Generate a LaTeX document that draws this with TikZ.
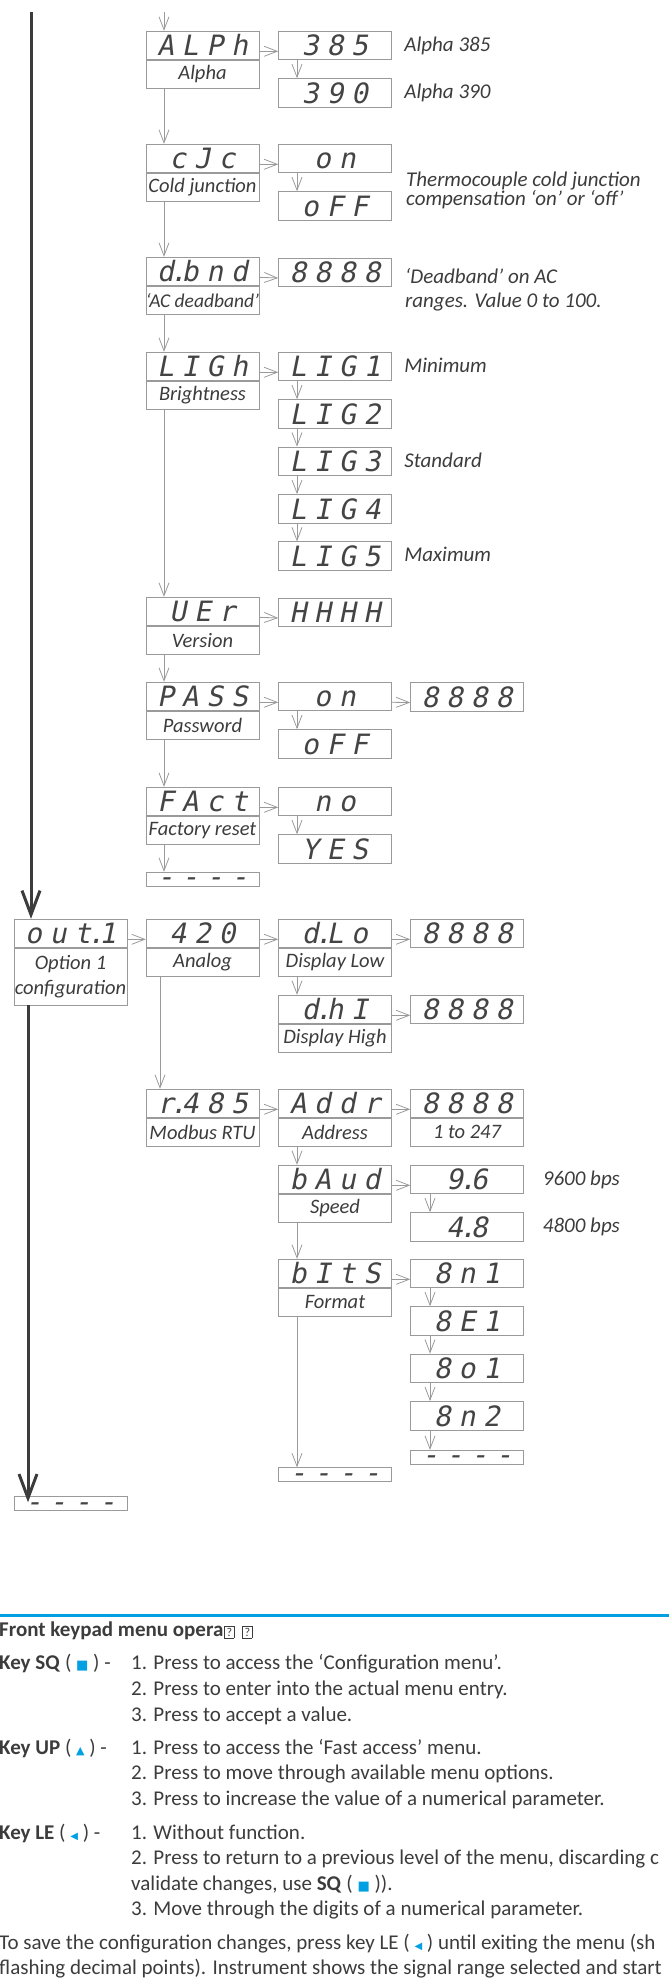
\documentclass[tikz,border=0pt]{standalone}
\usepackage{fontspec}
\setmainfont{Carlito}
\newfontfamily\segfont[FakeSlant=0.2,LetterSpace=28]{DejaVu Sans Mono}
\newfontfamily\symfont{DejaVu Sans}
\usetikzlibrary{positioning,arrows.meta}

\definecolor{boxgray}{HTML}{9A9A9A}
\definecolor{seggray}{HTML}{444444}
\definecolor{txtgray}{HTML}{3C3C3C}
\definecolor{keyblue}{HTML}{00A0E3}

\newcommand\segdot{\kern-4pt\rlap{.}\kern11.8pt}
\newcommand\segdash{\raisebox{-7.5pt}{----}}
\newcommand\nochar{{\fboxsep=1.5pt\fboxrule=0.7pt\fbox{\fontsize{12pt}{12pt}\selectfont\mdseries ?}}}
\newcommand\keysq{{\symfont\color{keyblue}\fontsize{13pt}{13pt}\selectfont ■}}
\newcommand\keyup{{\symfont\color{keyblue}\fontsize{11pt}{11pt}\selectfont ▲}}
\newcommand\keyle{{\symfont\color{keyblue}\fontsize{10pt}{10pt}\selectfont ◀}}

\begin{document}
\begin{tikzpicture}[x=1pt, y=-1pt, >={Straight Barb[length=13pt,width=10pt]},
        disp/.style={rectangle, draw=boxgray, minimum width=113pt, minimum height=28.5pt, inner sep=0pt,
            font=\segfont\fontsize{28pt}{28pt}\selectfont, text=seggray, text height=21pt, text depth=0pt},
        lbl/.style={rectangle, draw=boxgray, minimum width=113pt, minimum height=28.5pt, inner sep=0pt,
            font=\itshape\fontsize{20.5pt}{25pt}\selectfont, text=txtgray, align=center},
        endbox/.style={rectangle, draw=boxgray, minimum width=113pt, minimum height=14pt, inner sep=0pt,
            font=\segfont\fontsize{28pt}{28pt}\selectfont, text=seggray, text height=0pt, text depth=0pt},
        note/.style={anchor=base west, inner sep=0pt, font=\itshape\fontsize{21pt}{24pt}\selectfont, text=txtgray},
        arr/.style={->, draw=boxgray, line width=0.8pt},
        bigarr/.style={-{Straight Barb[length=24pt,width=18pt]}, draw=txtgray, line width=3pt},
        body/.style={anchor=base west, inner sep=0pt, font=\fontsize{21pt}{25.5pt}\selectfont, text=txtgray},
        headtxt/.style={anchor=base west, inner sep=0pt, font=\bfseries\fontsize{21pt}{25.5pt}\selectfont, text=txtgray}
    ]
    \useasboundingbox (0,0) rectangle (669,1986);
    \clip (0,0) rectangle (669,1986);

    % ALPh
    \coordinate (start) at (164,12);
    \node[disp] (alph) at (202.5,45.3) {ALPh};
    \node[lbl, below=0pt of alph] (alphL) {Alpha};
    \node[disp] (alph385) at (335,45.3) {385};
    \node[disp, below=18.5pt of alph385] (alph390) {390};
    \node[note] (alphN1) at ([xshift=12.5pt,yshift=-6pt]alph385.east) {Alpha 385};
    \node[note] (alphN2) at ([xshift=12.5pt,yshift=-6pt]alph390.east) {Alpha 390};
    \draw[arr] (start) -- (alph.north -| start);
    \draw[arr] ([yshift=-6pt]alph.east) -- ([yshift=-6pt]alph385.west);
    \draw[arr] ([xshift=-38pt]alph385.south) -- ([xshift=-38pt]alph390.north);

    % cJc
    \node[disp] (cjc) at (202.5,158.3) {cJc};
    \node[lbl, below=0pt of cjc] (cjcL) {Cold junction};
    \node[disp] (cjcOn) at (335,158.3) {on};
    \node[disp, below=18.5pt of cjcOn] (cjcOff) {oFF};
    \node[note] (cjcN1) at (406,186) {Thermocouple cold junction};
    \node[note] (cjcN2) at (406,205) {compensation ‘on’ or ‘off’};
    \draw[arr] (alphL.south -| start) -- (cjc.north -| start);
    \draw[arr] ([yshift=-6pt]cjc.east) -- ([yshift=-6pt]cjcOn.west);
    \draw[arr] ([xshift=-38pt]cjcOn.south) -- ([xshift=-38pt]cjcOff.north);

    % d.bnd
    \node[disp] (dbnd) at (202.5,271.3) {d\segdot bnd};
    \node[lbl, below=0pt of dbnd, font=\itshape\fontsize{19.5pt}{25pt}\selectfont] (dbndL) {‘AC deadband’};
    \node[disp] (dbndVal) at (335,272) {8888};
    \node[note] (dbndN1) at (405,283) {‘Deadband’ on AC};
    \node[note] (dbndN2) at (405,307.5) {ranges. Value 0 to 100.};
    \draw[arr] (cjcL.south -| start) -- (dbnd.north -| start);
    \draw[arr] ([yshift=-6pt]dbnd.east) -- ([yshift=-6pt]dbndVal.west);

    % LIGh
    \node[disp] (ligh) at (202.5,366.3) {LIGh};
    \node[lbl, below=0pt of ligh] (lighL) {Brightness};
    \node[disp] (lig1) at (335,366.3) {LIG1};
    \node[disp, below=18.5pt of lig1] (lig2) {LIG2};
    \node[disp, below=18.5pt of lig2] (lig3) {LIG3};
    \node[disp, below=18.5pt of lig3] (lig4) {LIG4};
    \node[disp, below=18.5pt of lig4] (lig5) {LIG5};
    \node[note] (lighN1) at ([xshift=12.5pt,yshift=-6pt]lig1.east) {Minimum};
    \node[note] (lighN3) at ([xshift=12.5pt,yshift=-6pt]lig3.east) {Standard};
    \node[note] (lighN5) at ([xshift=12.5pt,yshift=-6pt]lig5.east) {Maximum};
    \draw[arr] (dbndL.south -| start) -- (ligh.north -| start);
    \draw[arr] ([yshift=-6pt]ligh.east) -- ([yshift=-6pt]lig1.west);
    \foreach \a/\b in {lig1/lig2, lig2/lig3, lig3/lig4, lig4/lig5}
        \draw[arr] ([xshift=-38pt]\a.south) -- ([xshift=-38pt]\b.north);

    % UEr
    \node[disp] (ver) at (202.5,611.3) {UEr};
    \node[lbl, below=0pt of ver] (verL) {Version};
    \node[disp] (verVal) at (335,612) {HHHH};
    \draw[arr] (lighL.south -| start) -- (ver.north -| start);
    \draw[arr] ([yshift=-6pt]ver.east) -- ([yshift=-6pt]verVal.west);

    % PASS
    \node[disp] (pass) at (202.5,696.3) {PASS};
    \node[lbl, below=0pt of pass] (passL) {Password};
    \node[disp] (passOn) at (335,696.3) {on};
    \node[disp, below=18.5pt of passOn] (passOff) {oFF};
    \node[disp] (passVal) at (467,696.5) {8888};
    \draw[arr] (verL.south -| start) -- (pass.north -| start);
    \draw[arr] ([yshift=-6pt]pass.east) -- ([yshift=-6pt]passOn.west);
    \draw[arr] ([yshift=-6pt]passOn.east) -- ([yshift=-6pt]passVal.west);
    \draw[arr] ([xshift=-38pt]passOn.south) -- ([xshift=-38pt]passOff.north);

    % FAct
    \node[disp] (fact) at (202.5,801.3) {FAct};
    \node[lbl, below=0pt of fact] (factL) {Factory reset};
    \node[disp] (factNo) at (335,801.3) {no};
    \node[disp, below=18.5pt of factNo] (factYes) {YES};
    \node[endbox] (endA) at (202.5,879) {\segdash};
    \draw[arr] (passL.south -| start) -- (fact.north -| start);
    \draw[arr] ([yshift=-6pt]fact.east) -- ([yshift=-6pt]factNo.west);
    \draw[arr] ([xshift=-38pt]factNo.south) -- ([xshift=-38pt]factYes.north);
    \draw[arr] (factL.south -| start) -- (endA.north -| start);

    % out.1
    \node[disp] (out1) at (70.5,933.3) {out\segdot 1};
    \node[lbl, below=0pt of out1, minimum height=57pt] (out1L) {Option 1\\configuration};
    \node[endbox] (endB) at (70.5,1503.5) {\segdash};
    \coordinate (spine) at (31,12);
    \draw[bigarr] (spine) -- (spine |- out1.north);
    \draw[bigarr, shorten >=-6pt] ([xshift=-42.5pt]out1L.south) -- ([xshift=-42.5pt]endB.north);

    % 420
    \node[disp] (ana) at (202.5,933.3) {420};
    \node[lbl, below=0pt of ana] (anaL) {Analog};
    \node[disp] (dlo) at (335,933.3) {d\segdot Lo};
    \node[lbl, below=0pt of dlo] (dloL) {Display Low};
    \node[disp] (dloVal) at (467,933.3) {8888};
    \node[disp] (dhi) at (335,1009.3) {d\segdot hI};
    \node[lbl, below=0pt of dhi] (dhiL) {Display High};
    \node[disp] (dhiVal) at (467,1009.3) {8888};
    \draw[arr] ([yshift=-6pt]out1.east) -- ([yshift=-6pt]ana.west);
    \draw[arr] ([yshift=-6pt]ana.east) -- ([yshift=-6pt]dlo.west);
    \draw[arr] ([yshift=-6pt]dlo.east) -- ([yshift=-6pt]dloVal.west);
    \draw[arr] ([yshift=-6pt]dhi.east) -- ([yshift=-6pt]dhiVal.west);
    \draw[arr] ([xshift=-38pt]dloL.south) -- ([xshift=-38pt]dhi.north);

    % r.485
    \node[disp] (rs) at (202.5,1103.3) {r\segdot 485};
    \node[lbl, below=0pt of rs] (rsL) {Modbus RTU};
    \node[disp] (addr) at (335,1103.3) {Addr};
    \node[lbl, below=0pt of addr] (addrL) {Address};
    \node[disp] (addrVal) at (467,1103.3) {8888};
    \node[lbl, below=0pt of addrVal] (addrValL) {1 to 247};
    \node[disp] (baud) at (335,1179.3) {bAud};
    \node[lbl, below=0pt of baud] (baudL) {Speed};
    \node[disp] (b96) at (467,1179.3) {9\segdot 6};
    \node[disp, below=18.5pt of b96] (b48) {4\segdot 8};
    \node[note] (baudN1) at ([xshift=19pt,yshift=-6pt]b96.east) {9600 bps};
    \node[note] (baudN2) at ([xshift=19pt,yshift=-6pt]b48.east) {4800 bps};
    \node[disp] (bits) at (335,1273.3) {bItS};
    \node[lbl, below=0pt of bits] (bitsL) {Format};
    \node[disp] (f8n1) at (467,1273.3) {8n1};
    \node[disp, below=18.5pt of f8n1] (f8e1) {8E1};
    \node[disp, below=18.5pt of f8e1] (f8o1) {8o1};
    \node[disp, below=18.5pt of f8o1] (f8n2) {8n2};
    \node[endbox, below=20pt of f8n2] (endC) {\segdash};
    \node[endbox] (endD) at (335,1474.5) {\segdash};
    \draw[arr] ([xshift=-42.5pt]anaL.south) -- ([xshift=-42.5pt]rs.north);
    \draw[arr] ([yshift=-6pt]rs.east) -- ([yshift=-6pt]addr.west);
    \draw[arr] ([yshift=-6pt]addr.east) -- ([yshift=-6pt]addrVal.west);
    \draw[arr] ([yshift=-6pt]baud.east) -- ([yshift=-6pt]b96.west);
    \draw[arr] ([yshift=-6pt]bits.east) -- ([yshift=-6pt]f8n1.west);
    \draw[arr] ([xshift=-38pt]addrL.south) -- ([xshift=-38pt]baud.north);
    \draw[arr] ([xshift=-38pt]baudL.south) -- ([xshift=-38pt]bits.north);
    \draw[arr] ([xshift=-38pt]bitsL.south) -- ([xshift=-38pt]endD.north);
    \draw[arr] ([xshift=-37pt]b96.south) -- ([xshift=-37pt]b48.north);
    \foreach \a/\b in {f8n1/f8e1, f8e1/f8o1, f8o1/f8n2, f8n2/endC}
        \draw[arr] ([xshift=-37pt]\a.south) -- ([xshift=-37pt]\b.north);

    % keypad text
    \draw[keyblue, line width=3pt] (0,1615) -- (669,1615);
    \node[headtxt] (head) at (-1,1636) {Front keypad menu opera\kern1pt\nochar\hspace{8pt}\nochar};
    \node[body] (ksq) at (-1,1669) {\textbf{Key SQ} ( \keysq{} ) -};
    \node[body] (ksq1) at (131,1669) {1. Press to access the ‘Configuration menu’.};
    \node[body] (ksq2) at (131,1695) {2. Press to enter into the actual menu entry.};
    \node[body] (ksq3) at (131,1721) {3. Press to accept a value.};
    \node[body] (kup) at (-1,1754) {\textbf{Key UP} ( \keyup{} ) -};
    \node[body] (kup1) at (131,1754) {1. Press to access the ‘Fast access’ menu.};
    \node[body] (kup2) at (131,1779) {2. Press to move through available menu options.};
    \node[body] (kup3) at (131,1805) {3. Press to increase the value of a numerical parameter.};
    \node[body] (kle) at (-1,1839) {\textbf{Key LE} ( \keyle{} ) -};
    \node[body] (kle1) at (131,1839) {1. Without function.};
    \node[body] (kle2) at (131,1864) {2. Press to return to a previous level of the menu, discarding c};
    \node[body] (kle3) at (131,1890) {validate changes, use \textbf{SQ} ( \keysq{} )).};
    \node[body] (kle4) at (131,1915) {3. Move through the digits of a numerical parameter.};
    \node[body] (save1) at (-1,1949) {To save the configuration changes, press key LE ( \keyle{} ) until exiting the menu (sh};
    \node[body] (save2) at (-1,1974) {flashing decimal points). Instrument shows the signal range selected and start};
\end{tikzpicture}
\end{document}
